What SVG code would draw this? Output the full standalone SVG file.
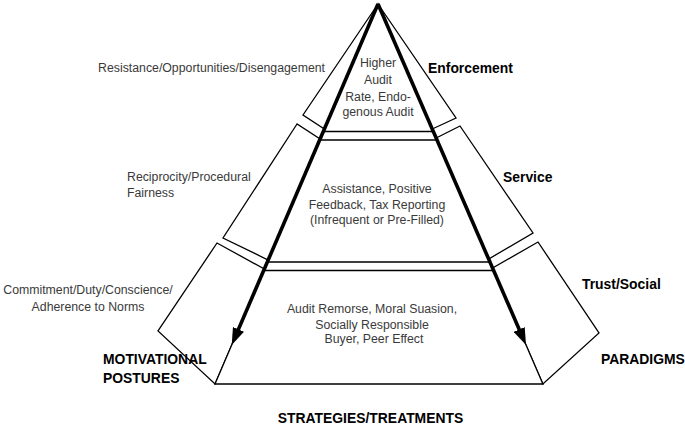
<svg xmlns="http://www.w3.org/2000/svg" width="685" height="428" viewBox="0 0 685 428">
  <defs>
    <style>
      .shape { fill: #ffffff; stroke: #000000; stroke-width: 1.3; stroke-linejoin: miter; }
      .t { font-family: "Liberation Sans", Arial, sans-serif; font-size: 12.3px; fill: #3a3a3a; }
      .c { text-anchor: middle; }
      .b { font-family: "Liberation Sans", Arial, sans-serif; font-size: 13.9px; font-weight: bold; fill: #000000; }
      .arrow { fill: none; stroke: #000000; stroke-width: 3.6; }
    </style>
    <marker id="head" markerUnits="userSpaceOnUse" markerWidth="17" markerHeight="12" refX="9" refY="6" orient="auto">
      <path d="M0,0 L17,6 L0,12 Z" fill="#000000"/>
    </marker>
  </defs>
  <rect width="685" height="428" fill="#ffffff"/>

  <g id="tier-enforcement">
    <polygon class="shape" points="378,4 303,115 324.4,129"/>
    <polygon class="shape" points="378,4 456,118 432.3,129"/>
    <polygon class="shape" points="378,4 323.3,131.5 433.3,131.5"/>
    <text class="t c" x="378" y="67">Higher</text>
    <text class="t c" x="378" y="84">Audit</text>
    <text class="t c" x="378" y="101">Rate, Endo-</text>
    <text class="t c" x="378" y="116">genous Audit</text>
  </g>

  <g id="tier-service">
    <polygon class="shape" points="297,124 223,238 268.2,260 320.1,139"/>
    <polygon class="shape" points="460,126 533,233 488.7,259 436.2,138"/>
    <polygon class="shape" points="319.7,140 437,140 490,262 267.3,262"/>
    <text class="t c" x="377" y="193">Assistance, Positive</text>
    <text class="t c" x="377" y="209">Feedback, Tax Reporting</text>
    <text class="t c" x="377" y="224">(Infrequent or Pre-Filled)</text>
  </g>

  <g id="tier-trust">
    <polygon class="shape" points="217,243 158,331 215,384 264.3,269"/>
    <polygon class="shape" points="538,242 599,333 542.9,384 492.6,268"/>
    <polygon class="shape" points="263.7,270.5 493.7,270.5 542.9,384 215,384"/>
    <text class="t c" x="372" y="313">Audit Remorse, Moral Suasion,</text>
    <text class="t c" x="372" y="329">Socially Responsible</text>
    <text class="t c" x="374" y="343">Buyer, Peer Effect</text>
  </g>

  <g id="connectors">
    <line class="arrow" x1="378" y1="4" x2="234.9" y2="337.6" marker-end="url(#head)"/>
    <line class="arrow" x1="378" y1="4" x2="522.8" y2="337.7" marker-end="url(#head)"/>
  </g>

  <g id="label-postures-left">
    <text class="t" x="325" y="72" text-anchor="end">Resistance/Opportunities/Disengagement</text>
    <text class="t" x="127" y="181">Reciprocity/Procedural</text>
    <text class="t" x="127" y="197">Fairness</text>
    <text class="t c" x="88" y="294">Commitment/Duty/Conscience/</text>
    <text class="t c" x="88" y="311">Adherence to Norms</text>
  </g>

  <g id="label-paradigms-right">
    <text class="b" x="428" y="73">Enforcement</text>
    <text class="b" x="503" y="182">Service</text>
    <text class="b" x="582" y="289">Trust/Social</text>
    <text class="b" x="601" y="364">PARADIGMS</text>
  </g>

  <g id="label-axes">
    <text class="b" x="103" y="364">MOTIVATIONAL</text>
    <text class="b" x="103" y="383">POSTURES</text>
    <text class="b" x="370.5" y="423" text-anchor="middle">STRATEGIES/TREATMENTS</text>
  </g>
</svg>
